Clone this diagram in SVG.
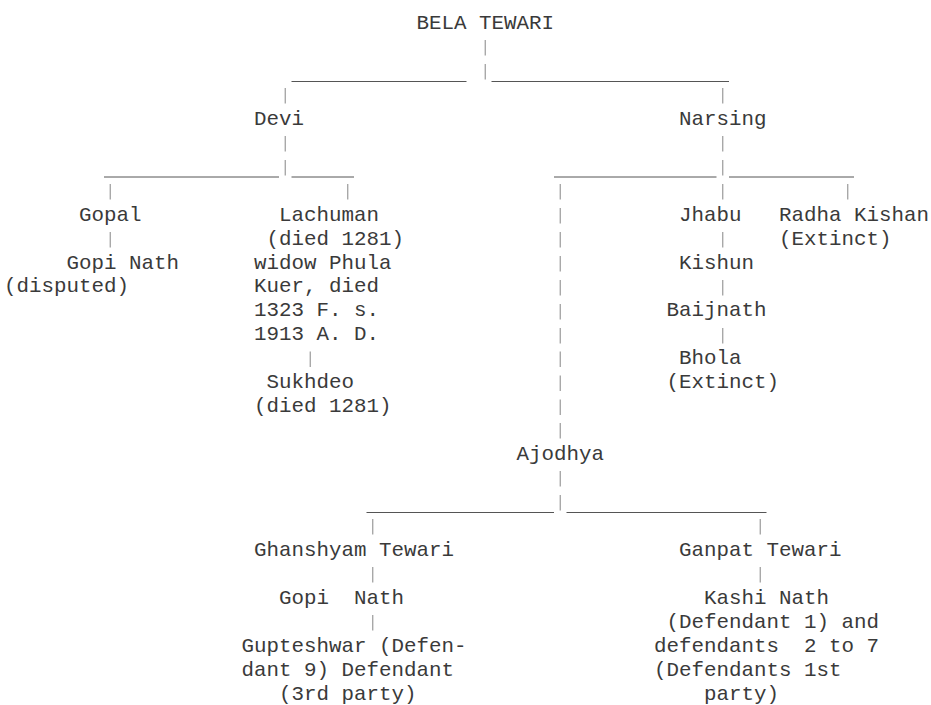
<svg xmlns="http://www.w3.org/2000/svg" width="931" height="705" viewBox="0 0 931 705">
<style>
text{font-family:"Liberation Mono","Courier New",monospace;font-size:20.83px;fill:#3a3a3a;white-space:pre}
.v{stroke:#9a9a9a;stroke-width:1.2;fill:none}
.h{stroke:#555;stroke-width:1;fill:none}
</style>
<rect width="931" height="705" fill="#fff"/>
<g id="connectors">
<path class="h" d="M291.5 81.5H466.5M491.5 81.5H729M104 177H279M291.5 177H354M554 177H716.5M729 177H854M366.5 512.5H554M566.5 512.5H766.5"/>
<path class="v" d="M485.25 40V55.5M485.25 64V79.5
M285.25 88V103.5M285.25 136V151.5M285.25 160V175.5
M722.75 88V103.5M722.75 136V151.5M722.75 160V175.5M722.75 184V199.5M722.75 232V247.5M722.75 280V295.5M722.75 328V343.5
M110.25 184V199.5M110.25 232V247.5
M347.75 184V199.5
M847.75 184V199.5
M310.25 351.5V367
M560.25 184V199.5M560.25 208V223.5M560.25 232V247.5M560.25 256V271.5M560.25 280V295.5M560.25 304V319.5M560.25 328V343.5M560.25 351.5V367M560.25 375.5V391M560.25 399.5V415M560.25 423V438.5
M560.25 471V486.5M560.25 495V510.5
M372.75 519V534.5M372.75 567V582.5M372.75 615V630.5
M760.25 519V534.5M760.25 567V582.5"/>
</g>
<g id="bela"><text x="416.5" y="29">BELA TEWARI</text></g>
<g id="devi"><text x="254" y="124.8">Devi</text></g>
<g id="narsing"><text x="679" y="124.8">Narsing</text></g>
<g id="gopal"><text x="79" y="220.6">Gopal</text></g>
<g id="gopinath1"><text x="66.5" y="268.5">Gopi Nath</text><text x="4" y="292.4">(disputed)</text></g>
<g id="lachuman"><text x="279" y="220.6">Lachuman</text><text x="266.5" y="244.5">(died 1281)</text><text x="254" y="268.5">widow Phula</text><text x="254" y="292.4">Kuer, died</text><text x="254" y="316.4">1323 F. s.</text><text x="254" y="340.3">1913 A. D.</text></g>
<g id="sukhdeo"><text x="266.5" y="388.2">Sukhdeo</text><text x="254" y="412.2">(died 1281)</text></g>
<g id="jhabu"><text x="679" y="220.6">Jhabu</text></g>
<g id="kishun"><text x="679" y="268.5">Kishun</text></g>
<g id="baijnath"><text x="666.5" y="316.4">Baijnath</text></g>
<g id="bhola"><text x="679" y="364.3">Bhola</text><text x="666.5" y="388.2">(Extinct)</text></g>
<g id="radha"><text x="779" y="220.6">Radha Kishan</text><text x="779" y="244.5">(Extinct)</text></g>
<g id="ajodhya"><text x="516.5" y="460.1">Ajodhya</text></g>
<g id="ghanshyam"><text x="254" y="555.9">Ghanshyam Tewari</text></g>
<g id="gopinath2"><text x="279" y="603.8">Gopi  Nath</text></g>
<g id="gupteshwar"><text x="241.5" y="651.7">Gupteshwar (Defen-</text><text x="241.5" y="675.6">dant 9) Defendant</text><text x="279" y="699.6">(3rd party)</text></g>
<g id="ganpat"><text x="679" y="555.9">Ganpat Tewari</text></g>
<g id="kashinath"><text x="704" y="603.8">Kashi Nath</text><text x="666.5" y="627.7">(Defendant 1) and</text><text x="654" y="651.7">defendants  2 to 7</text><text x="654" y="675.6">(Defendants 1st</text><text x="704" y="699.6">party)</text></g>
</svg>
